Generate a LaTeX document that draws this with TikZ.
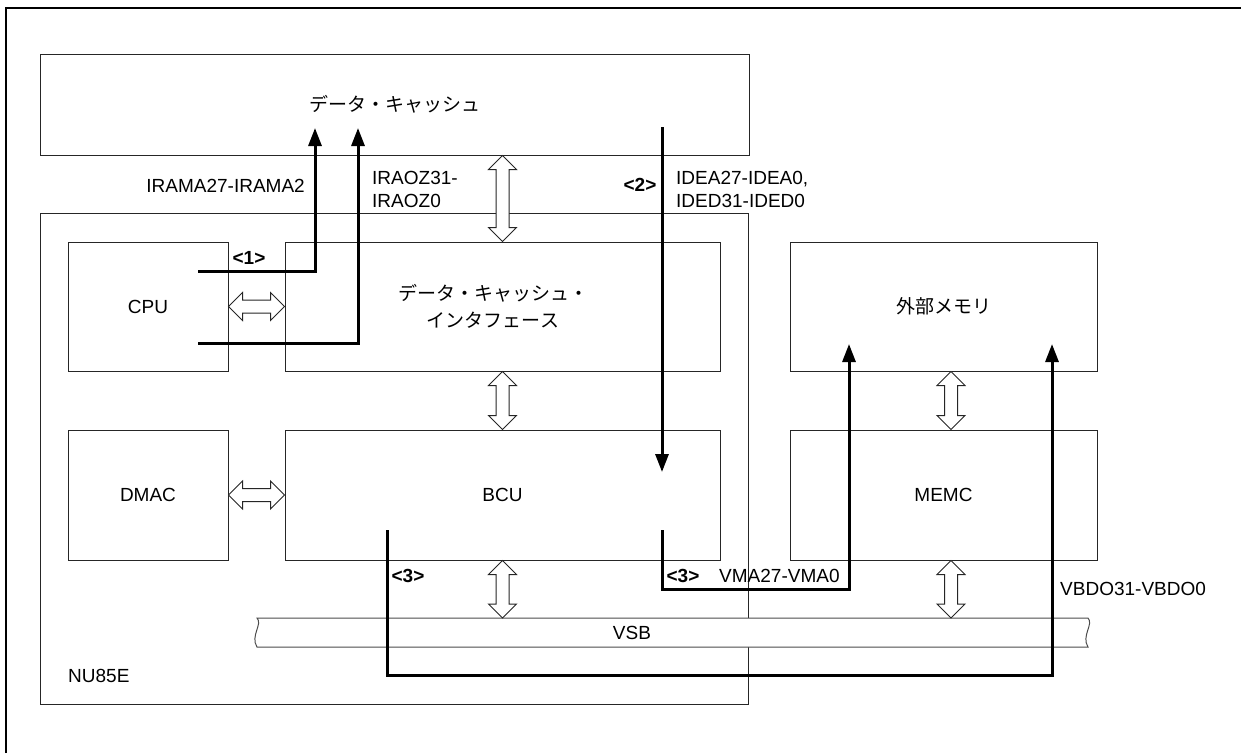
\documentclass[tikz,border=0pt]{standalone}
\usepackage{fontspec}
\setmainfont{Liberation Sans}
\newfontfamily\jp{Noto Sans CJK JP}
\usetikzlibrary{arrows.meta,calc}

\tikzset{
  blk/.style={draw=black!85, line width=1pt},
  sig/.style={line width=3pt, -{Triangle[length=18pt,width=13pt]}},
  bus/.style={draw=black!85, line width=1pt, fill=white},
  tag/.style={font=\fontsize{19}{23}\bfseries},
}

% hollow two-headed bus arrow between two points
\newcommand{\busarrow}[2]{%
  \draw[bus] let \p1=#1, \p2=#2, \n1={veclen(\x2-\x1,\y2-\y1)},
    \n2={atan2(\y2-\y1,\x2-\x1)} in [shift={(\p1)}, rotate=\n2]
    (0pt,0pt) -- (14pt,14pt) -- (14pt,6.5pt) -- (\n1-14pt,6.5pt)
    -- (\n1-14pt,14pt) -- (\n1,0pt) -- (\n1-14pt,-14pt) -- (\n1-14pt,-6.5pt)
    -- (14pt,-6.5pt) -- (14pt,-14pt) -- cycle;}

\begin{document}
\begin{tikzpicture}[x=1pt, y=-1pt, inner sep=0pt, font=\fontsize{19}{23}\selectfont]
  \useasboundingbox (0,0) rectangle (1241,753);
  % outer frame
  \draw[line width=1.2pt] (6,753) -- (6,8) -- (1241,8);
  % data cache
  \node[blk, minimum width=709pt, minimum height=101pt] (dcache) at (394.5,104.5) {\jp データ・キャッシュ};
  % NU85E
  \node[blk, minimum width=708pt, minimum height=491pt] (nu) at (394,458.5) {};
  \node[anchor=west] (nulbl) at (68,676) {NU85E};
  % blocks inside
  \node[blk, minimum width=160pt, minimum height=129pt] (cpu) at (148,306.5) {CPU};
  \node[blk, minimum width=435pt, minimum height=129pt] (dci) at (502.5,306.5) {};
  \node[align=center] (dcilbl) at (493,306.5) {\jp データ・キャッシュ・\\[4pt]\jp インタフェース};
  \node[blk, minimum width=160pt, minimum height=130pt] (dmac) at (148,495) {DMAC};
  \node[blk, minimum width=435pt, minimum height=130pt] (bcu) at (502.5,495) {BCU};
  % outside
  \node[blk, minimum width=307pt, minimum height=129pt] (extmem) at (943.5,306.5) {\jp 外部メモリ};
  \node[blk, minimum width=307pt, minimum height=130pt] (memc) at (943.5,495) {MEMC};
  % VSB bus
  \coordinate (vsbL) at (257,618);
  \coordinate (vsbR) at (1088,647);
  \draw[bus, draw=black!70] (vsbL) -- (vsbR |- vsbL) .. controls (1094,624) and (1081,636) .. (vsbR)
    -- (vsbL |- vsbR) .. controls (250,636) and (263,624) .. (vsbL) -- cycle;
  \node (vsb) at (632,633) {VSB};
  % bus arrows
  \busarrow{(dcache.south -| dci.north)}{(dci.north)}
  \busarrow{(cpu.east)}{(dci.west)}
  \busarrow{(dci.south)}{(bcu.north)}
  \busarrow{(dmac.east)}{(bcu.west)}
  \busarrow{(bcu.south)}{(bcu.south |- vsbL)}
  \busarrow{([xshift=7.5pt]extmem.south)}{([xshift=7.5pt]memc.north)}
  \busarrow{([xshift=7.5pt]memc.south)}{([xshift=7.5pt]memc.south |- vsbL)}
  % <1> CPU -> data cache
  \coordinate (r1) at (198,271);
  \coordinate (r1t) at (315,128);
  \coordinate (r2) at (198,343);
  \coordinate (r2t) at (358,128);
  \draw[sig] (r1) -| (r1t);
  \draw[sig] (r2) -| (r2t);
  \node[tag] (t1) at (249,258) {<1>};
  \node[anchor=east] (lrama) at (305,186) {IRAMA27-IRAMA2};
  \node[anchor=west, align=left] (lraoz) at (372,189) {IRAOZ31-\\IRAOZ0};
  % <2> data cache -> BCU
  \coordinate (d1) at (662,127);
  \coordinate (d1t) at (662,472);
  \draw[sig] (d1) -- (d1t);
  \node[tag] (t2) at (640,185) {<2>};
  \node[anchor=west, align=left] (lidea) at (676,189) {IDEA27-IDEA0,\\IDED31-IDED0};
  % <3> BCU -> external memory
  \coordinate (v1) at (662,530);
  \coordinate (v1t) at (849,344);
  \coordinate (v2) at (387,530);
  \coordinate (v2t) at (1052,344);
  \draw[sig] (v1) -- ++(0,59) -| (v1t);
  \draw[sig] (v2) -- ++(0,145) -| (v2t);
  \node[tag] (t3a) at (408,576) {<3>};
  \node[tag] (t3b) at (683,576) {<3>};
  \node[anchor=west] (lvma) at (719,576) {VMA27-VMA0};
  \node[anchor=west] (lvbdo) at (1060,589) {VBDO31-VBDO0};
\end{tikzpicture}
\end{document}
